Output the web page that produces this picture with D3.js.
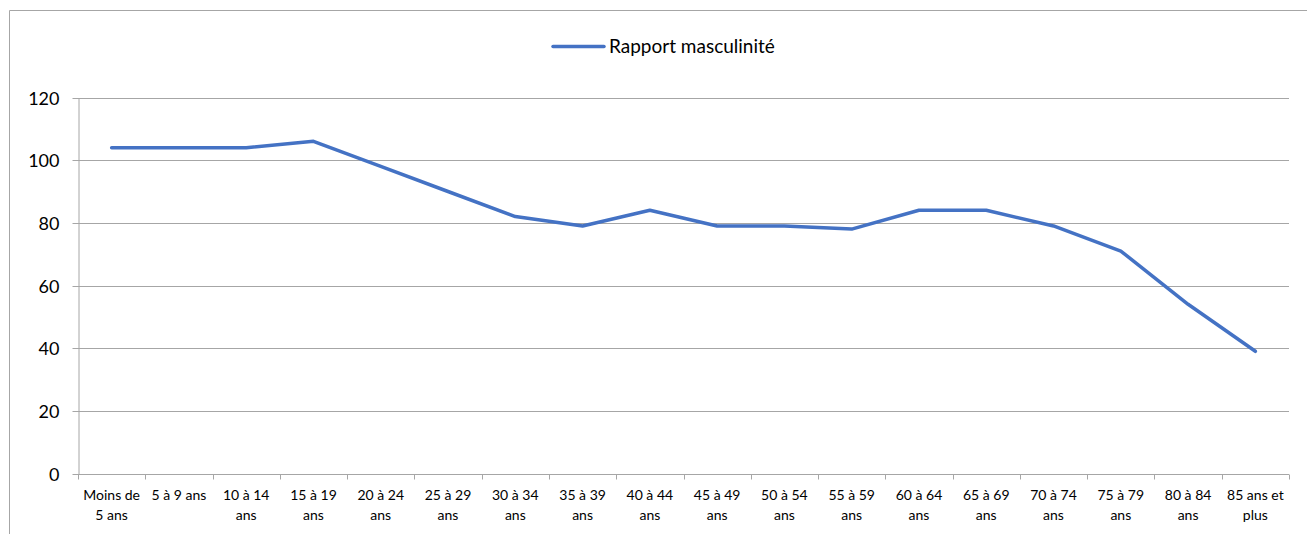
<!DOCTYPE html>
<html>
<head>
<meta charset="utf-8">
<script src="https://cdn.jsdelivr.net/npm/d3@7/dist/d3.min.js"></script>
<style>
  html, body { margin: 0; padding: 0; background: #fff; }
  svg { display: block; font-family: Lato, "Open Sans", sans-serif; }
</style>
</head>
<body>
<svg id="chart" width="1307" height="534"></svg>
<script>
// Age groups (line breaks where the label wraps under its band)
const categories = [
  "Moins de\n5 ans", "5 à 9 ans", "10 à 14\nans", "15 à 19\nans", "20 à 24\nans",
  "25 à 29\nans", "30 à 34\nans", "35 à 39\nans", "40 à 44\nans", "45 à 49\nans",
  "50 à 54\nans", "55 à 59\nans", "60 à 64\nans", "65 à 69\nans", "70 à 74\nans",
  "75 à 79\nans", "80 à 84\nans", "85 ans et\nplus"
];
// Sex ratio (men per 100 women)
const rapportMasculinite = [104, 104, 104, 106, 98, 90, 82, 79, 84, 79, 79, 78, 84, 84, 79, 71, 54, 39];
const yTicks = [0, 20, 40, 60, 80, 100, 120];
const seriesName = "Rapport masculinité";

const svg = d3.select("#chart");
const margin = { left: 78, right: 1289, top: 97.5, bottom: 473.5 };
const gray = "#a6a6a6";

// Outer frame (top and left edges visible)
svg.append("path")
  .attr("d", "M9.5,534 V10.5 H1307")
  .attr("fill", "none").attr("stroke", gray).attr("stroke-width", 1);

const x = d3.scaleBand().domain(categories).range([margin.left, margin.right]).padding(0);
const y = d3.scaleLinear().domain([0, 120]).range([margin.bottom, margin.top]);

// Horizontal gridlines
svg.append("g").selectAll("line").data(yTicks.filter(d => d > 0)).join("line")
  .attr("x1", margin.left).attr("x2", margin.right)
  .attr("y1", d => Math.round(y(d)) + 0.5).attr("y2", d => Math.round(y(d)) + 0.5)
  .attr("stroke", gray).attr("stroke-width", 1);

// Y axis
const yAxis = svg.append("g")
  .attr("transform", `translate(${margin.left + 0.5},0)`)
  .call(d3.axisLeft(y).tickValues(yTicks).tickSize(6).tickPadding(13).tickSizeOuter(0));
yAxis.select(".domain").attr("stroke", gray);
yAxis.selectAll(".tick line").attr("stroke", gray);
yAxis.selectAll(".tick").attr("transform", d => `translate(0,${Math.round(y(d)) + 0.5})`);
yAxis.selectAll("text").attr("font-size", 18).attr("font-family", "Lato").attr("fill", "#000")
  .attr("dy", "0.36em");

// X axis line with boundary ticks between categories
const xBase = Math.round(y(0)) + 0.5;
svg.append("line")
  .attr("x1", margin.left).attr("x2", margin.right)
  .attr("y1", xBase).attr("y2", xBase)
  .attr("stroke", gray);
const boundaries = categories.map(c => x(c)).concat([x(categories[categories.length - 1]) + x.bandwidth()]);
svg.append("g").selectAll("line").data(boundaries).join("line")
  .attr("x1", d => Math.round(d) + 0.5).attr("x2", d => Math.round(d) + 0.5)
  .attr("y1", xBase).attr("y2", xBase + 5)
  .attr("stroke", gray);

// Category labels
const labels = svg.append("g").selectAll("text").data(categories).join("text")
  .attr("x", d => x(d) + x.bandwidth() / 2)
  .attr("y", xBase + 25)
  .attr("text-anchor", "middle")
  .attr("font-size", 14)
  .attr("fill", "#000");
labels.each(function(d) {
  const t = d3.select(this);
  d.split("\n").forEach((part, i) => {
    t.append("tspan").attr("x", x(d) + x.bandwidth() / 2).attr("dy", i === 0 ? 0 : 20).text(part);
  });
});

// Series line
const line = d3.line()
  .x((d, i) => x(categories[i]) + x.bandwidth() / 2)
  .y(d => y(d));
svg.append("path")
  .datum(rapportMasculinite)
  .attr("d", line)
  .attr("fill", "none")
  .attr("stroke", "#4472c4")
  .attr("stroke-width", 3.5)
  .attr("stroke-linejoin", "round")
  .attr("stroke-linecap", "round");

// Legend
const lg = svg.append("g");
lg.append("line").attr("x1", 553).attr("x2", 604).attr("y1", 46.5).attr("y2", 46.5)
  .attr("stroke", "#4472c4").attr("stroke-width", 3.5).attr("stroke-linecap", "round");
lg.append("text").attr("x", 609).attr("y", 53).attr("font-size", 19).attr("fill", "#000")
  .text(seriesName);
</script>
</body>
</html>
